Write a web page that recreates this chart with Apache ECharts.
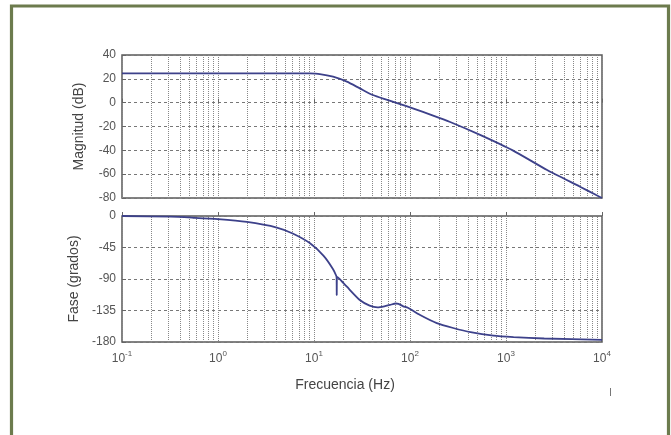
<!DOCTYPE html>
<html>
<head>
<meta charset="utf-8">
<script src="https://cdn.jsdelivr.net/npm/echarts@6/dist/echarts.min.js"></script>
<style>
html,body{margin:0;padding:0;background:#fff;}
#c{width:671px;height:435px;}
</style>
</head>
<body>
<div id="c"></div>
<script>
// ---- data ----
var magFreq = [0.1, 1, 5, 9, 11.5, 15.8, 22, 30, 41, 57, 79, 107, 174, 262, 537, 1175, 2680, 5900, 8700, 10000];
var magDb   = [24.6, 24.6, 24.6, 24.5, 24, 21.8, 17.6, 12, 6.4, 2.5, -1.2, -4.8, -10.8, -16.2, -27, -40, -56.5, -70.5, -77.5, -80];

var phaseFreq = [0.1, 0.32, 0.55, 1.0, 2.0, 4.1, 6.0, 9.1, 12.6, 15.8, 17.0, 17.2, 17.25, 17.3, 17.4, 20, 22, 30, 38, 46, 54, 62, 71, 76, 85, 95, 126, 190, 282, 427, 741, 1200, 2500, 10000];
var phaseDeg  = [0, -1, -2.5, -4.5, -8.5, -16.5, -25, -39, -57, -76, -85, -88, -113, -90, -87, -95, -101, -120, -128, -130.5, -129, -127, -125, -125.5, -129, -131, -141, -153, -160, -166, -171, -173, -175, -177];

var xTickExp = [-1, 0, 1, 2, 3, 4];
var magTicks = [40, 20, 0, -20, -40, -60, -80];
var phaseTicks = [0, -45, -90, -135, -180];
var minorMult = [2, 3, 4, 5, 6, 7, 8, 9];
var decades = [0.1, 1, 10, 100, 1000];

var magTitle = 'Magnitud (dB)';
var phaseTitle = 'Fase (grados)';
var xTitle = 'Frecuencia (Hz)';

// ---- build ----
var minorLines = [];
decades.forEach(function(d){ minorMult.forEach(function(m){ minorLines.push({xAxis: +(d*m).toPrecision(6)}); }); });

var labelColor = '#555';
var font = '"Liberation Sans", Arial, sans-serif';
function xAx(idx, showLabels){
  return {
    type:'log', logBase:10, min:0.1, max:10000, gridIndex: idx,
    axisLine:{show:false},
    axisTick:{show:true, inside:true, length:4, lineStyle:{color:'#666'}},
    splitLine:{show:true, lineStyle:{color:'#888', type:'dotted', width:1}},
    axisLabel:{show: showLabels, margin: 8, color: labelColor, fontFamily: font,
      formatter:function(v){ var e = Math.round(Math.log10(v)); return '{b|10}{s|' + e + '}'; },
      rich:{ b:{fontSize:12, color:labelColor, fontFamily:font}, s:{fontSize:8, color:labelColor, fontFamily:font, padding:[0,0,9,0]} }
    }
  };
}
function yAx(idx, ticks, title){
  return {
    type:'value', gridIndex: idx, min: ticks[ticks.length-1], max: ticks[0], interval: ticks[0]-ticks[1],
    axisLine:{show:false},
    axisTick:{show:true, inside:true, length:4, lineStyle:{color:'#666'}},
    splitLine:{show:true, lineStyle:{color:'#777', type:[3,3], width:1}},
    axisLabel:{color:labelColor, fontSize:12, fontFamily:font, margin:6},
    name: title, nameLocation:'middle', nameGap: 36, nameRotate: 90,
    nameTextStyle:{color:'#444', fontSize:14, fontFamily:font}
  };
}
function minorSeries(idx){
  return {
    type:'line', xAxisIndex: idx, yAxisIndex: idx, data: [], silent:true,
    markLine:{ silent:true, symbol:['none','none'], label:{show:false},
      lineStyle:{color:'#888', type:'dotted', width:1}, animation:false, data: minorLines }
  };
}

var chart = echarts.init(document.getElementById('c'), null, {renderer:'canvas'});
chart.setOption({
  animation:false,
  backgroundColor:'#fff',
  grid:[
    {left:122, right:69, top:55, height:143, show:true, borderColor:'#5a5a5a', borderWidth:1.5, backgroundColor:'#fff'},
    {left:122, right:69, top:216, height:126, show:true, borderColor:'#5a5a5a', borderWidth:1.5, backgroundColor:'#fff'}
  ],
  xAxis:[ xAx(0,false), xAx(1,true) ],
  yAxis:[ yAx(0, magTicks, magTitle), yAx(1, phaseTicks, phaseTitle) ],
  series:[
    minorSeries(0), minorSeries(1),
    {type:'line', xAxisIndex:0, yAxisIndex:0, symbol:'none', smooth:0.2, z:5,
      lineStyle:{color:'#3d418a', width:1.8},
      data: magFreq.map(function(f,i){ return [f, magDb[i]]; })},
    {type:'line', xAxisIndex:1, yAxisIndex:1, symbol:'none', smooth:0.2, z:5,
      lineStyle:{color:'#3d418a', width:1.8},
      data: phaseFreq.map(function(f,i){ return [f, phaseDeg[i]]; })}
  ],
  graphic:[
    {type:'rect', shape:{x:11.5, y:6, width:657, height:700}, style:{fill:'none', stroke:'#6c7b4d', lineWidth:3.2}, silent:true},
    {type:'text', x:345, y:385, style:{text:xTitle, fill:'#444', font:'14px ' + font, textAlign:'center', textVerticalAlign:'middle'}},
    {type:'rect', shape:{x:610, y:388, width:1, height:8}, style:{fill:'#777'}, silent:true}
  ]
});
</script>
</body>
</html>
